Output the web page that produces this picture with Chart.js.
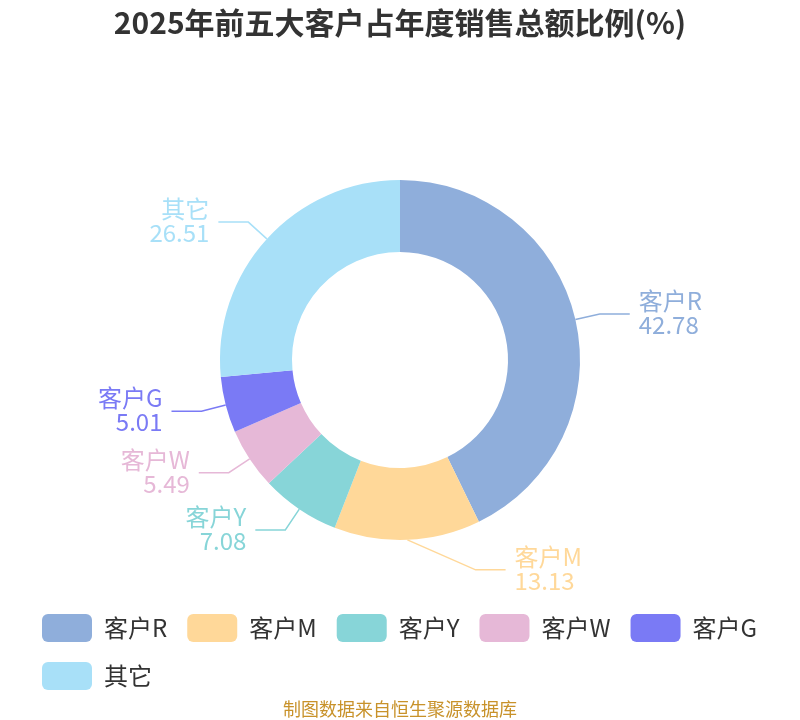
<!DOCTYPE html>
<html>
<head>
<meta charset="utf-8">
<script src="https://cdn.jsdelivr.net/npm/chart.js@4.4.1/dist/chart.umd.min.js"></script>
<style>
  html, body { margin: 0; padding: 0; background: #fff; }
</style>
</head>
<body>
<canvas id="c" width="800" height="720"></canvas>
<script>
const categories = ["客户R", "客户M", "客户Y", "客户W", "客户G", "其它"];
const shares = [42.78, 13.13, 7.08, 5.49, 5.01, 26.51];
const colors = ["#8FAEDB", "#FFD899", "#87D5D8", "#E6B8D7", "#7A7AF5", "#A8E0F8"];
const titleText = "2025年前五大客户占年度销售总额比例(%)";
const sourceText = "制图数据来自恒生聚源数据库";
const FONT = "'Noto Sans CJK SC', 'Noto Sans', sans-serif";

// outside labels with two-segment leader lines
const sliceLabels = {
  id: "sliceLabels",
  afterDatasetsDraw(chart) {
    const ctx = chart.ctx;
    const meta = chart.getDatasetMeta(0);
    ctx.save();
    ctx.font = "24px " + FONT;
    ctx.textBaseline = "middle";
    ctx.lineWidth = 1.5;
    meta.data.forEach((arc, i) => {
      const p = arc.getProps(["x", "y", "startAngle", "endAngle", "outerRadius"], true);
      const a = (p.startAngle + p.endAngle) / 2;
      const cos = Math.cos(a), sin = Math.sin(a);
      const R = p.outerRadius;
      const side = cos >= 0 ? 1 : -1;
      const x0 = p.x + R * cos, y0 = p.y + R * sin;
      let x1 = p.x + (R + 25) * cos, y1 = p.y + (R + 25) * sin;
      const minDx = 0.42 * R;
      if (Math.abs(x1 - p.x) < minDx) {
        x1 = p.x + side * minDx;
        y1 = p.y + (R + 30) * sin;
      }
      const x2 = x1 + side * 30;
      ctx.strokeStyle = colors[i];
      ctx.beginPath();
      ctx.moveTo(x0, y0);
      ctx.lineTo(x1, y1);
      ctx.lineTo(x2, y1);
      ctx.stroke();
      ctx.fillStyle = colors[i];
      ctx.textAlign = side > 0 ? "left" : "right";
      const tx = x2 + side * 9;
      ctx.fillText(categories[i], tx, y1 - 13);
      ctx.fillText(shares[i].toFixed(2), tx, y1 + 11);
    });
    ctx.restore();
  }
};

const sourceNote = {
  id: "sourceNote",
  afterDraw(chart) {
    const ctx = chart.ctx;
    ctx.save();
    ctx.font = "18px " + FONT;
    ctx.fillStyle = "#C8922A";
    ctx.textAlign = "center";
    ctx.textBaseline = "middle";
    ctx.fillText(sourceText, chart.width / 2, 709);
    ctx.restore();
  }
};

new Chart(document.getElementById("c").getContext("2d"), {
  type: "doughnut",
  data: {
    labels: categories,
    datasets: [
      {
        data: shares,
        backgroundColor: colors,
        borderWidth: 0,
      },
    ],
  },
  options: {
    responsive: false,
    animation: false,
    events: [],
    radius: 180,
    cutout: "60%",
    layout: {
      padding: { left: 22, right: 22, top: 0, bottom: 20 },
    },
    plugins: {
      title: {
        display: true,
        text: titleText,
        color: "#333",
        font: { size: 30, weight: "bold", family: FONT },
        padding: { top: 5, bottom: 85 },
      },
      legend: {
        position: "bottom",
        align: "start",
        labels: {
          boxWidth: 50,
          boxHeight: 28,
          padding: 20,
          color: "#333",
          useBorderRadius: true,
          borderRadius: 6,
          font: { size: 24, family: FONT },
        },
      },
      tooltip: { enabled: false },
    },
  },
  plugins: [sliceLabels, sourceNote],
});
</script>
</body>
</html>
